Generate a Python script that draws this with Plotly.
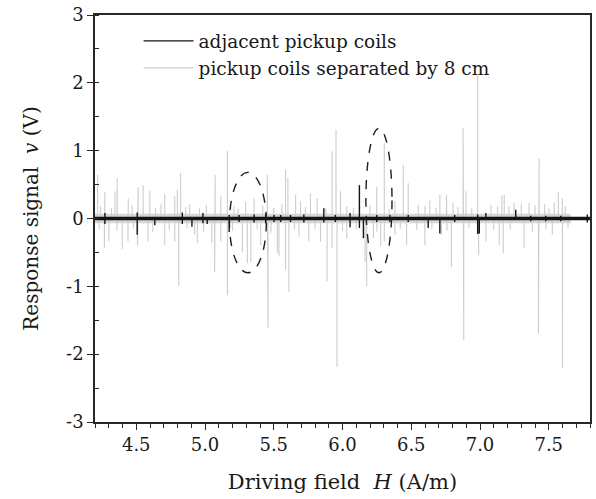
import numpy as np
import plotly.graph_objects as go

# ---------------- data ----------------
# gray: pickup coils separated by 8 cm  (spike position, spike value)
gray_up_x = [4.219, 4.272, 4.345, 4.362, 4.442, 4.514, 4.550, 4.599, 4.707, 4.780, 4.799, 4.823, 4.888, 5.074,
             5.115, 5.163, 5.296, 5.357, 5.453, 5.586, 5.603, 5.659, 5.695, 5.767, 5.816, 5.924, 5.953, 5.985,
             6.031, 6.123, 6.249, 6.304, 6.382, 6.442, 6.478, 6.551, 6.635, 6.708, 6.756, 6.804, 6.877,
             6.898, 6.983, 7.128, 7.159, 7.176, 7.248, 7.357, 7.430, 7.502, 7.570, 7.599,
             4.240, 4.320, 4.470, 4.640, 4.680, 4.860, 4.960, 5.010, 5.210, 5.240, 5.420, 5.500, 5.560,
             5.730, 5.880, 6.080, 6.200, 6.340, 6.600, 6.680, 6.840, 6.940, 7.080, 7.210, 7.300, 7.400,
             7.470, 7.540, 7.620]
gray_up_v = [0.65, 0.39, 0.40, 0.59, 0.30, 0.46, 0.49, 0.41, 0.36, 0.33, 0.42, 0.67, 0.21, 0.64,
             0.33, 1.00, 0.25, 0.30, 0.65, 0.72, 0.60, 0.35, 0.25, 0.37, 0.30, 0.99, 1.31, 0.40,
             0.18, 0.50, 0.47, 1.11, 0.25, 0.79, 0.52, 0.20, 0.27, 0.35, 0.35, 0.23, 1.33,
             0.40, 2.12, 0.18, 0.34, 0.35, 0.23, 0.23, 0.89, 0.15, 0.39, 0.30,
             0.18, 0.15, 0.20, 0.16, 0.22, 0.17, 0.15, 0.20, 0.18, 0.14, 0.19, 0.16, 0.21,
             0.17, 0.15, 0.16, 0.19, 0.14, 0.18, 0.16, 0.17, 0.15, 0.20, 0.18, 0.22, 0.19,
             0.21, 0.24, 0.18]
gray_dn_x = [4.268, 4.301, 4.398, 4.440, 4.509, 4.586, 4.707, 4.780, 4.809, 4.925, 4.944, 5.050, 5.070,
             5.115, 5.163, 5.272, 5.308, 5.333, 5.405, 5.458, 5.526, 5.538, 5.586, 5.610, 5.683, 5.755,
             5.840, 5.888, 5.924, 5.960,
             6.031, 6.164, 6.176, 6.225, 6.278, 6.304, 6.382, 6.466, 6.599, 6.720, 6.792, 6.882,
             6.990, 7.043, 7.140, 7.169, 7.321, 7.425, 7.526, 7.600,
             4.230, 4.360, 4.480, 4.620, 4.740, 4.870, 4.990, 5.200, 5.380, 5.480, 5.650, 5.800,
             6.000, 6.100, 6.250, 6.420, 6.540, 6.650, 6.760, 6.920, 7.100, 7.220, 7.380, 7.480, 7.640]
gray_dn_v = [-0.44, -0.33, -0.45, -0.34, -0.40, -0.34, -0.39, -0.34, -0.99, -0.24, -0.36, -0.36, -0.79,
             -0.34, -1.13, -0.49, -0.66, -0.64, -0.39, -1.62, -0.51, -0.56, -0.76, -1.08, -0.27, -0.34,
             -0.34, -0.93, -0.44, -2.19,
             -0.29, -0.64, -1.00, -0.29, -0.41, -0.34, -0.24, -0.39, -0.39, -0.24, -0.71, -1.79,
             -0.54, -0.34, -0.39, -0.51, -0.44, -1.69, -0.24, -2.20,
             -0.16, -0.18, -0.15, -0.20, -0.17, -0.14, -0.19, -0.18, -0.16, -0.21, -0.17, -0.15,
             -0.18, -0.16, -0.19, -0.15, -0.17, -0.16, -0.18, -0.14, -0.17, -0.16, -0.19, -0.15, -0.14]
gray_span = [4.20, 7.66]
gray_noise = 0.07

# black: adjacent pickup coils
black_up_x = [4.272, 4.507, 4.835, 4.985, 5.176, 5.248, 5.357, 5.441, 5.502, 5.550, 5.622, 5.719, 5.864, 5.948,
              6.055, 6.123, 6.249, 6.345, 6.478, 6.816, 6.983, 7.043, 7.260, 7.369, 7.478, 7.587, 7.780]
black_up_v = [0.08, 0.09, 0.09, 0.08, 0.05, 0.05, 0.06, 0.07, 0.05, 0.05, 0.05, 0.06, 0.15, 0.05,
              0.08, 0.49, 0.05, 0.05, 0.05, 0.05, 0.06, 0.08, 0.13, 0.04, 0.04, 0.04, 0.06]
black_dn_x = [4.272, 4.507, 4.635, 4.835, 4.905, 4.985, 5.016, 5.176, 5.248, 5.357, 5.441, 5.502, 5.550,
              5.622, 5.719, 5.864, 5.948, 6.055, 6.123, 6.152, 6.249, 6.345, 6.478, 6.623, 6.708, 6.816,
              6.983, 6.995, 7.369, 7.478, 7.587, 7.780]
black_dn_v = [-0.08, -0.24, -0.10, -0.08, -0.12, -0.07, -0.08, -0.20, -0.05, -0.06, -0.07, -0.05, -0.05,
              -0.05, -0.06, -0.06, -0.05, -0.13, -0.14, -0.29, -0.05, -0.05, -0.05, -0.14, -0.22, -0.05,
              -0.23, -0.22, -0.04, -0.04, -0.04, -0.06]
black_span = [4.20, 7.80]
black_noise = 0.025

series_names = ["adjacent pickup coils", "pickup coils separated by 8 cm"]

# dashed ellipses: (x0, x1, y0, y1)
ellipse_x0 = [5.178, 6.170]
ellipse_x1 = [5.446, 6.360]
ellipse_y0 = [-0.80, -0.80]
ellipse_y1 = [0.68, 1.33]

x_tick_vals = [4.5, 5.0, 5.5, 6.0, 6.5, 7.0, 7.5]
x_tick_text = ["4.5", "5.0", "5.5", "6.0", "6.5", "7.0", "7.5"]
y_tick_vals = [-3, -2, -1, 0, 1, 2, 3]
y_tick_text = ["-3", "-2", "-1", "0", "1", "2", "3"]

# ---------------- helpers ----------------
def spike_path(xu, vu, xd, vd, span):
    xs_all = np.array(list(xu) + list(xd))
    vs_all = np.array(list(vu) + list(vd))
    order = np.argsort(xs_all, kind="stable")
    px, py = [span[0]], [0.0]
    for i in order:
        px += [xs_all[i], xs_all[i], xs_all[i]]
        py += [0.0, vs_all[i], 0.0]
    px.append(span[1]); py.append(0.0)
    return px, py

def band(span, amp):
    return [span[0], span[1], span[1], span[0], span[0]], [amp, amp, -amp, -amp, amp]

FONT = "DejaVu Serif"
GRAY = "rgb(205,205,205)"
BLACK = "rgb(20,20,20)"

fig = go.Figure()

bx, by = band(gray_span, gray_noise)
fig.add_trace(go.Scatter(x=bx, y=by, fill="toself", fillcolor="rgb(215,215,215)", mode="lines",
                         line=dict(width=0), showlegend=False, hoverinfo="skip"))
gx, gy = spike_path(gray_up_x, gray_up_v, gray_dn_x, gray_dn_v, gray_span)
fig.add_trace(go.Scatter(x=gx, y=gy, mode="lines", name=series_names[1], legendrank=2,
                         line=dict(color=GRAY, width=1.1)))

kx, ky = band(black_span, black_noise)
fig.add_trace(go.Scatter(x=kx, y=ky, fill="toself", fillcolor=BLACK, mode="lines",
                         line=dict(width=0), showlegend=False, hoverinfo="skip"))
blx, bly = spike_path(black_up_x, black_up_v, black_dn_x, black_dn_v, black_span)
fig.add_trace(go.Scatter(x=blx, y=bly, mode="lines", name=series_names[0], legendrank=1,
                         line=dict(color=BLACK, width=1.4)))

for i in range(len(ellipse_x0)):
    fig.add_shape(type="circle", xref="x", yref="y",
                  x0=ellipse_x0[i], x1=ellipse_x1[i], y0=ellipse_y0[i], y1=ellipse_y1[i],
                  line=dict(color="rgb(30,30,30)", width=1.4, dash="dash"))

fig.update_layout(
    width=596, height=499,
    margin=dict(l=95, r=6, t=15, b=77),
    paper_bgcolor="white", plot_bgcolor="white",
    font=dict(family=FONT, size=18, color="rgb(25,25,25)"),
    legend=dict(x=0.088, y=0.982, xanchor="left", yanchor="top", bgcolor="rgba(0,0,0,0)",
                font=dict(family=FONT, size=18.5), itemwidth=50, tracegroupgap=0),
    xaxis=dict(range=[4.2, 7.8], tickvals=x_tick_vals, ticktext=x_tick_text, automargin=False,
               ticks="outside", ticklen=6, tickwidth=1.2, tickcolor="rgb(40,40,40)",
               minor=dict(dtick=0.1, ticks="outside", ticklen=4, tickcolor="rgb(40,40,40)"),
               showline=True, linecolor="rgb(40,40,40)", linewidth=1.5, mirror=True,
               showgrid=False, zeroline=False,
               tickfont=dict(family=FONT, size=18),
               title=dict(text="Driving field  <i>H</i> (A/m)", font=dict(family=FONT, size=21), standoff=20)),
    yaxis=dict(range=[-3, 3], tickvals=y_tick_vals, ticktext=y_tick_text, automargin=False,
               ticks="outside", ticklen=6, tickwidth=1.2, tickcolor="rgb(40,40,40)",
               minor=dict(dtick=0.5, ticks="inside", ticklen=4, tickcolor="rgb(40,40,40)"),
               showline=True, linecolor="rgb(40,40,40)", linewidth=1.5, mirror=True,
               showgrid=False, zeroline=False,
               tickfont=dict(family=FONT, size=18),
               title=dict(text="Response signal  <i>v</i> (V)", font=dict(family=FONT, size=20), standoff=22)),
)

fig.write_html("out.html", config={"displayModeBar": False},
               post_script="document.body.style.margin='0';document.body.style.overflow='hidden';")
